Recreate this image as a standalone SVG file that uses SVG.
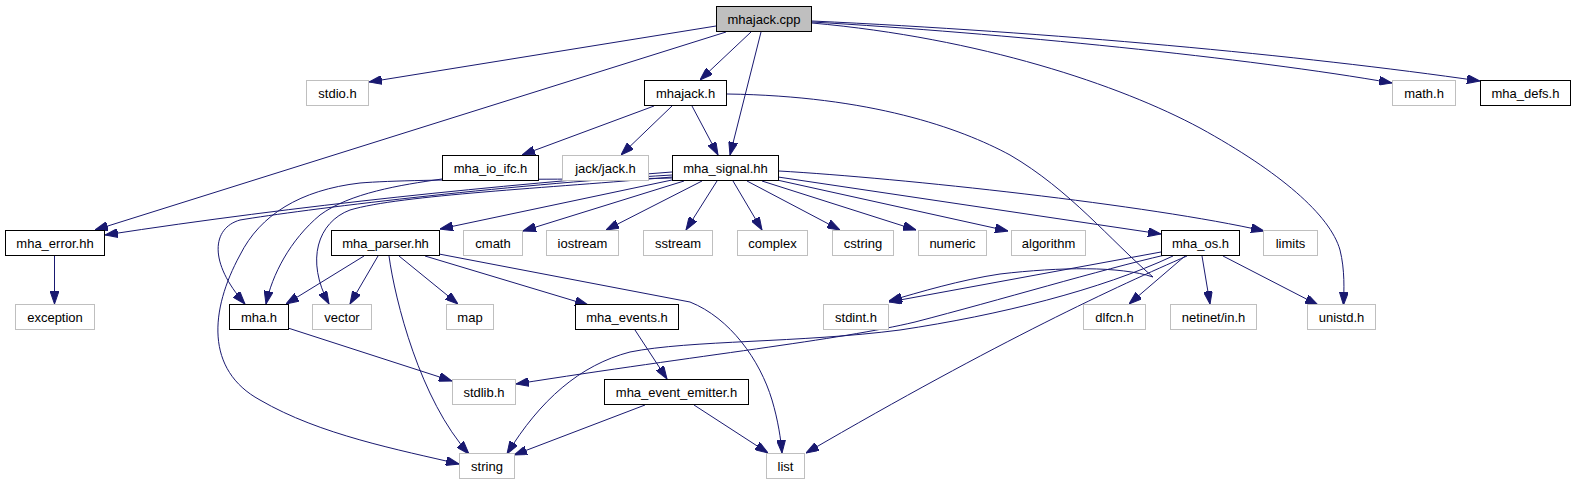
<svg xmlns="http://www.w3.org/2000/svg" width="1576" height="485" viewBox="0 0 1576 485">
<style>
.n rect{fill:#fff;stroke:#000;stroke-width:1}
.x rect{fill:#fff;stroke:#bfbfbf;stroke-width:1}
.r rect{fill:#bfbfbf;stroke:#000;stroke-width:1}
text{font-family:"Liberation Sans",Arial,Helvetica,sans-serif;font-size:13px;fill:#000;text-anchor:middle}
#edges path{fill:none;stroke:#191970;stroke-width:1;marker-end:url(#ah)}
</style>
<defs>
<marker id="ah" viewBox="0 0 13 9" refX="13" refY="4.5" markerUnits="userSpaceOnUse" markerWidth="13" markerHeight="9" orient="auto">
<path d="M0,0 L13,4.5 L0,9 Z" fill="#191970" stroke="#191970" stroke-width="1"/>
</marker>
</defs>
<rect width="1576" height="485" fill="#fff"/>
<g id="edges">
<path d="M716,26 L369,82"/>
<path d="M726,32 L95,230"/>
<path d="M751,32 L700,80"/>
<path d="M761,32 L730,155"/>
<path d="M812,22 C1000,33 1250,58 1392,83"/>
<path d="M812,21 C1050,32 1300,55 1480,81"/>
<path d="M812,23 C980,38 1120,85 1200,128 C1280,172 1330,215 1340,250 C1345,270 1344,290 1343.5,305"/>
<path d="M654,106 L522,155"/>
<path d="M672,106 L621,155"/>
<path d="M692,106 L718,155"/>
<path d="M727,94 C870,96 960,128 1010,155 C1070,190 1110,240 1153,277 C1120,266 1060,267 1000,274 C960,280 920,292 889,301"/>
<path d="M442,179 C400,185 350,193 320,215 C290,240 272,275 266,304"/>
<path d="M672,172 C500,185 300,205 105,235"/>
<path d="M672,175 C500,185 300,210 240,220 C212,228 208,262 245,304"/>
<path d="M672,178 C600,180 420,178 360,183 C300,190 260,215 240,255 C210,310 205,370 260,400 C320,435 400,450 459,464"/>
<path d="M672,177 C550,188 400,195 350,210 C318,222 305,260 329,304"/>
<path d="M672,180 L440,229"/>
<path d="M684,181 L523,231"/>
<path d="M702,181 L606,230"/>
<path d="M717,181 L686,230"/>
<path d="M733,181 L762,230"/>
<path d="M747,181 L840,230"/>
<path d="M762,181 L916,230"/>
<path d="M777,180 L1008,231"/>
<path d="M778,177 L1161,234"/>
<path d="M779,171 C900,178 1150,205 1264,231"/>
<path d="M364,256 L286,304"/>
<path d="M378,256 L350,304"/>
<path d="M389,256 C395,300 420,400 469,454"/>
<path d="M399,256 L458,304"/>
<path d="M425,256 L588,305"/>
<path d="M439,254 L690,302 C730,318 760,360 772,400 C778,420 781,440 782,453"/>
<path d="M635,330 L667,379"/>
<path d="M645,405 L514,455"/>
<path d="M694,405 L768,453"/>
<path d="M288,328 L452,381"/>
<path d="M54.5,256 L54.5,304"/>
<path d="M1161,252 L889,302"/>
<path d="M1165,255 C1100,270 1000,300 915,322 C840,340 700,355 516,384"/>
<path d="M1173,256 C1100,290 1000,315 900,330 C800,343 690,340 630,352 C580,365 540,400 507,454"/>
<path d="M1187,256 C1120,285 1000,340 806,453"/>
<path d="M1185,256 L1129,304"/>
<path d="M1202,256 L1210,304"/>
<path d="M1223,256 L1318,305"/>
</g>
<g id="n_mhajack_cpp" class="r"><rect x="716.5" y="6.5" width="95" height="25"/><text x="764" y="23.5">mhajack.cpp</text></g>
<g id="n_stdio" class="x"><rect x="306.5" y="80.5" width="62" height="25"/><text x="337.5" y="97.5">stdio.h</text></g>
<g id="n_mhajack_h" class="n"><rect x="644.5" y="80.5" width="82" height="25"/><text x="685.5" y="97.5">mhajack.h</text></g>
<g id="n_math" class="x"><rect x="1392.5" y="80.5" width="63" height="25"/><text x="1424" y="97.5">math.h</text></g>
<g id="n_mha_defs" class="n"><rect x="1480.5" y="80.5" width="90" height="25"/><text x="1525.5" y="97.5">mha_defs.h</text></g>
<g id="n_mha_io_ifc" class="n"><rect x="442.5" y="155.5" width="96" height="25"/><text x="490.5" y="172.5">mha_io_ifc.h</text></g>
<g id="n_jack" class="x"><rect x="562.5" y="155.5" width="86" height="25"/><text x="605.5" y="172.5">jack/jack.h</text></g>
<g id="n_mha_signal" class="n"><rect x="672.5" y="155.5" width="106" height="25"/><text x="725.5" y="172.5">mha_signal.hh</text></g>
<g id="n_mha_error" class="n"><rect x="5.5" y="230.5" width="99" height="25"/><text x="55" y="247.5">mha_error.hh</text></g>
<g id="n_mha_parser" class="n"><rect x="331.5" y="230.5" width="108" height="25"/><text x="385.5" y="247.5">mha_parser.hh</text></g>
<g id="n_cmath" class="x"><rect x="463.5" y="230.5" width="59" height="25"/><text x="493" y="247.5">cmath</text></g>
<g id="n_iostream" class="x"><rect x="546.5" y="230.5" width="72" height="25"/><text x="582.5" y="247.5">iostream</text></g>
<g id="n_sstream" class="x"><rect x="643.5" y="230.5" width="69" height="25"/><text x="678" y="247.5">sstream</text></g>
<g id="n_complex" class="x"><rect x="737.5" y="230.5" width="70" height="25"/><text x="772.5" y="247.5">complex</text></g>
<g id="n_cstring" class="x"><rect x="832.5" y="230.5" width="61" height="25"/><text x="863" y="247.5">cstring</text></g>
<g id="n_numeric" class="x"><rect x="918.5" y="230.5" width="68" height="25"/><text x="952.5" y="247.5">numeric</text></g>
<g id="n_algorithm" class="x"><rect x="1011.5" y="230.5" width="74" height="25"/><text x="1048.5" y="247.5">algorithm</text></g>
<g id="n_mha_os" class="n"><rect x="1161.5" y="230.5" width="78" height="25"/><text x="1200.5" y="247.5">mha_os.h</text></g>
<g id="n_limits" class="x"><rect x="1263.5" y="230.5" width="54" height="25"/><text x="1290.5" y="247.5">limits</text></g>
<g id="n_exception" class="x"><rect x="15.5" y="304.5" width="79" height="25"/><text x="55" y="321.5">exception</text></g>
<g id="n_mha_h" class="n"><rect x="229.5" y="304.5" width="59" height="25"/><text x="259" y="321.5">mha.h</text></g>
<g id="n_vector" class="x"><rect x="312.5" y="304.5" width="59" height="25"/><text x="342" y="321.5">vector</text></g>
<g id="n_map" class="x"><rect x="446.5" y="304.5" width="47" height="25"/><text x="470" y="321.5">map</text></g>
<g id="n_mha_events" class="n"><rect x="575.5" y="304.5" width="103" height="25"/><text x="627" y="321.5">mha_events.h</text></g>
<g id="n_stdint" class="x"><rect x="823.5" y="304.5" width="65" height="25"/><text x="856" y="321.5">stdint.h</text></g>
<g id="n_dlfcn" class="x"><rect x="1083.5" y="304.5" width="62" height="25"/><text x="1114.5" y="321.5">dlfcn.h</text></g>
<g id="n_netinet" class="x"><rect x="1170.5" y="304.5" width="86" height="25"/><text x="1213.5" y="321.5">netinet/in.h</text></g>
<g id="n_unistd" class="x"><rect x="1307.5" y="304.5" width="68" height="25"/><text x="1341.5" y="321.5">unistd.h</text></g>
<g id="n_stdlib" class="x"><rect x="452.5" y="379.5" width="63" height="25"/><text x="484" y="396.5">stdlib.h</text></g>
<g id="n_mha_event_emitter" class="n"><rect x="604.5" y="379.5" width="144" height="25"/><text x="676.5" y="396.5">mha_event_emitter.h</text></g>
<g id="n_string" class="x"><rect x="459.5" y="453.5" width="55" height="25"/><text x="487" y="470.5">string</text></g>
<g id="n_list" class="x"><rect x="766.5" y="453.5" width="38" height="25"/><text x="785.5" y="470.5">list</text></g>
</svg>
